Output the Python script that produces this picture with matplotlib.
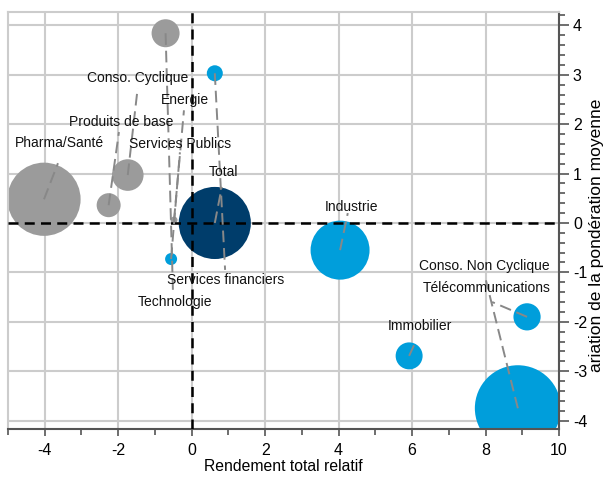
import matplotlib.pyplot as plt
from matplotlib.ticker import MultipleLocator

plt.rcParams['font.family'] = ['Liberation Sans', 'DejaVu Sans']
plt.rcParams['axes.unicode_minus'] = False

# donnees
secteurs = ["Pharma/Santé", "Produits de base", "Conso. Cyclique", "Technologie",
            "Energie", "Services Publics", "Services financiers", "Total",
            "Industrie", "Immobilier", "Télécommunications", "Conso. Non Cyclique"]
rendement = [-4.02, -2.26, -1.74, -0.71, -0.48, -0.56, 0.63, 0.63, 4.04, 5.92, 9.13, 8.88]
variation = [0.48, 0.36, 0.97, 3.84, 0.06, -0.73, 3.03, 0.0, -0.55, -2.69, -1.90, -3.75]
poids = [13.4, 1.44, 2.5, 1.96, 0.12, 0.36, 0.64, 13.0, 8.7, 1.82, 1.85, 18.5]
groupe = ["g", "g", "g", "g", "g", "b", "b", "t", "b", "b", "b", "b"]

couleurs = {"g": "#9b9b9b", "b": "#009edb", "t": "#003d6b"}

# position des etiquettes et fin des traits de rappel
pos_label = [(-3.61, 1.62), (-1.93, 2.04), (-1.47, 2.93), (-0.45, -1.60),
             (-0.18, 2.49), (-0.32, 1.60), (0.93, -1.16), (0.88, 1.03),
             (4.36, 0.32), (6.22, -2.09), (8.04, -1.32), (7.96, -0.87)]
fin_trait = [(-3.64, 1.21), (-1.98, 1.84), (-1.47, 2.73), (-0.51, -1.36),
             (-0.21, 2.28), (-0.32, 1.43), (0.91, -0.95), (0.82, 0.73),
             (4.25, 0.20), (6.08, -2.43), (8.18, -1.60), (8.01, -1.16)]

fig = plt.figure(figsize=(6.06, 4.79), dpi=100)
ax = fig.add_axes([8 / 606, 1 - 429 / 479, 551 / 606, 417 / 479])

ax.set_xlim(-5, 10)
ax.set_ylim(-4.17, 4.27)

ax.grid(True, color="#cccccc", lw=1.5, zorder=0)
ax.set_axisbelow(True)

tailles = [p * (20 * 0.72) ** 2 for p in poids]
ax.scatter(rendement, variation, s=tailles, c=[couleurs[g] for g in groupe],
           linewidths=0, zorder=2)

ax.axhline(0, color="black", lw=1.8, ls=(0, (4, 2.5)), zorder=3)
ax.axvline(0, color="black", lw=1.8, ls=(0, (4, 2.5)), zorder=3)

for i, nom in enumerate(secteurs):
    ax.plot([rendement[i], fin_trait[i][0]], [variation[i], fin_trait[i][1]],
            color="#888888", lw=1.4, ls=(0, (6, 3)), zorder=4)
    ax.text(pos_label[i][0], pos_label[i][1], nom, fontsize=10,
            ha="center", va="center", color="#111111", zorder=5)

ax.xaxis.set_major_locator(MultipleLocator(2))
ax.xaxis.set_minor_locator(MultipleLocator(1))
ax.yaxis.set_major_locator(MultipleLocator(1))
ax.yaxis.set_minor_locator(MultipleLocator(0.2))
ax.yaxis.tick_right()

ax.tick_params(axis="x", which="major", length=5, width=1.2, color="#555555",
               labelsize=11.5, pad=5)
ax.tick_params(axis="x", which="minor", length=4, width=1.2, color="#555555")
ax.tick_params(axis="y", which="major", length=7, width=1.2, color="#555555",
               labelsize=11.5, pad=3)
ax.tick_params(axis="y", which="minor", length=4, width=1.2, color="#555555")

for s in ["left", "top"]:
    ax.spines[s].set_color("#cccccc")
    ax.spines[s].set_linewidth(1.5)
for s in ["right", "bottom"]:
    ax.spines[s].set_color("#555555")
    ax.spines[s].set_linewidth(1.5)

ax.set_xlabel("Rendement total relatif", fontsize=11.3, labelpad=1)
fig.text(596 / 606, 1 - 235 / 479, "ariation de la pondération moyenne",
         rotation=90, ha="center", va="center", fontsize=12.5)

fig.savefig("out.png", dpi=100)
